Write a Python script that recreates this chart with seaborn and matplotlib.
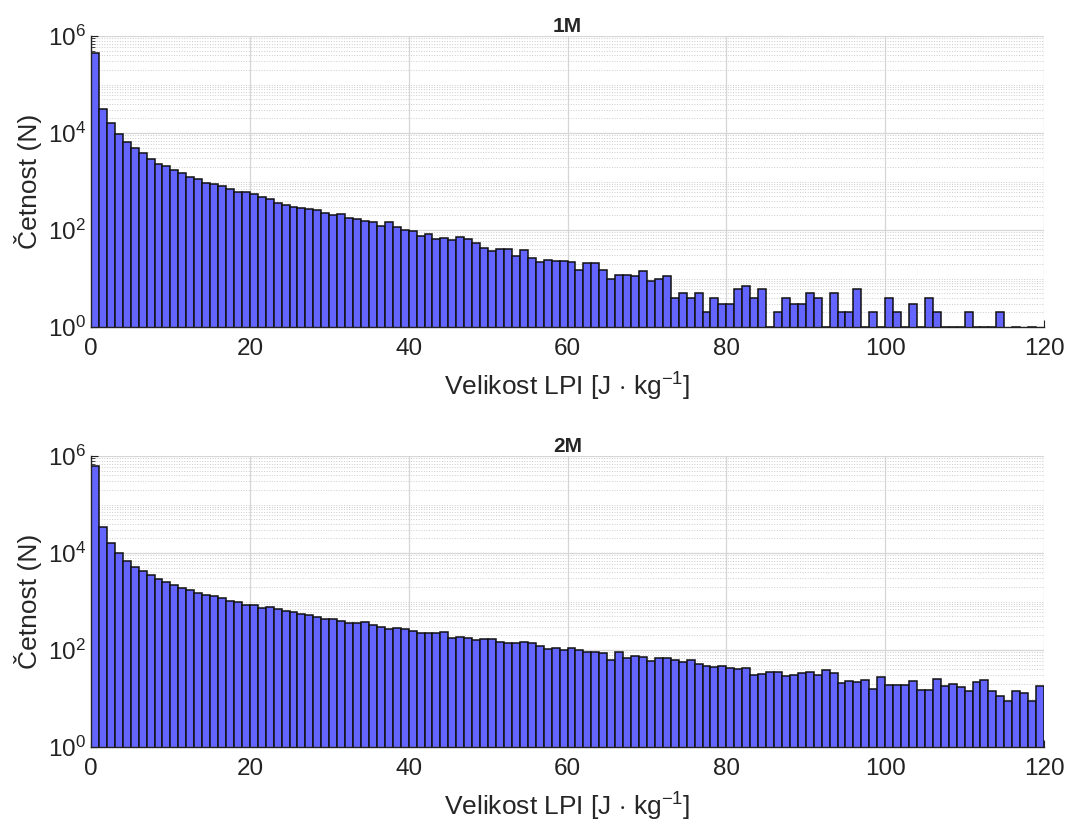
import numpy as np
import pandas as pd
import matplotlib
matplotlib.use("Agg")
import matplotlib.pyplot as plt
import seaborn as sns
from matplotlib.ticker import LogLocator, FixedLocator, NullFormatter, FuncFormatter

# ---- data (counts per 1 J/kg bin, 0..120) ----
bin_edges = list(range(0, 121))
counts_1m = [440000, 31000, 15700, 9500, 6650, 4860, 3900, 2950, 2330, 2090,
             1700, 1480, 1250, 1130, 950, 868, 815, 708, 615, 597,
             551, 479, 429, 356, 334, 299, 286, 272, 256, 222,
             206, 212, 176, 165, 153, 146, 123, 146, 115, 100,
             97, 75, 82, 64, 69, 61, 71, 64, 55, 42,
             37, 40, 41, 29, 38, 27, 22, 24, 23, 23,
             22, 15, 21, 21, 15, 10, 12, 12, 11, 14,
             9, 10, 11, 4, 5, 4, 5, 2, 4, 3,
             3, 6, 7, 4, 6, 1, 2, 4, 3, 3,
             5, 4, 1, 5, 2, 2, 6, 1, 2, 1,
             4, 2, 1, 3, 1, 4, 2, 1, 1, 1,
             2, 1, 1, 1, 2, 0, 1, 0, 1, 0]
counts_2m = [635000, 34000, 16300, 9850, 6980, 5260, 4230, 3450, 2900, 2480,
             2190, 1900, 1700, 1530, 1350, 1270, 1190, 1030, 969, 855,
             829, 720, 778, 709, 635, 597, 543, 526, 479, 429,
             443, 403, 367, 356, 373, 334, 304, 268, 281, 268,
             244, 226, 226, 219, 233, 178, 184, 178, 163, 168,
             165, 148, 137, 141, 148, 141, 123, 105, 112, 102,
             108, 98, 90, 90, 87, 61, 90, 69, 74, 71,
             58, 67, 69, 62, 56, 61, 52, 47, 44, 46,
             42, 41, 42, 30, 32, 36, 35, 29, 30, 33,
             36, 31, 39, 34, 21, 23, 22, 24, 16, 28,
             19, 19, 19, 23, 15, 15, 25, 18, 20, 17,
             14, 22, 24, 14, 11, 9, 14, 13, 9, 18]
titles = ["1M", "2M"]
xticks = [0, 20, 40, 60, 80, 100, 120]
ylabel = "Četnost (N)"
xlabel = "Velikost LPI [J $\\cdot$ kg$^{-1}$]"

sns.set_style("white")
plt.rcParams["font.family"] = ["Liberation Sans", "DejaVu Sans"]
plt.rcParams["mathtext.fontset"] = "custom"
plt.rcParams["mathtext.rm"] = "Liberation Sans"
plt.rcParams["mathtext.it"] = "Liberation Sans:italic"
plt.rcParams["mathtext.bf"] = "Liberation Sans:bold"

fig = plt.figure(figsize=(10.68, 8.31), dpi=100)
left = 91 / 1068
width = 953 / 1068
height = 291 / 831
bottoms = [1 - 327 / 831, 1 - 747 / 831]

centers = np.array(bin_edges[:-1]) + 0.5
for counts, title, b in zip([counts_1m, counts_2m], titles, bottoms):
    ax = fig.add_axes([left, b, width, height])
    df = pd.DataFrame({"x": centers, "n": counts})
    sns.histplot(data=df, x="x", weights="n", bins=bin_edges, ax=ax,
                 color="#6464FF", alpha=1.0, edgecolor="#111111", linewidth=1.1)
    ax.set_yscale("log")
    ax.set_ylim(1, 1e6)
    ax.set_xlim(0, 120)
    ax.set_xticks(xticks)
    ax.yaxis.set_major_locator(FixedLocator([1, 1e2, 1e4, 1e6]))
    ax.yaxis.set_major_formatter(FuncFormatter(lambda v, p: "$10^{%d}$" % int(round(np.log10(v)))))
    ax.yaxis.set_minor_locator(LogLocator(base=10, subs=np.arange(1, 10), numticks=100))
    ax.yaxis.set_minor_formatter(NullFormatter())
    ax.grid(True, which="major", axis="both", color="#d6d6d6", linewidth=0.9)
    ax.grid(True, which="minor", axis="y", color="#cccccc", linewidth=0.7, linestyle=":")
    ax.set_axisbelow(True)
    for s in ["top", "right"]:
        ax.spines[s].set_visible(False)
    for s in ["left", "bottom"]:
        ax.spines[s].set_color("#222222")
        ax.spines[s].set_linewidth(1.0)
    ax.tick_params(axis="both", which="major", direction="in", length=5, labelsize=17.5,
                   left=True, bottom=True, colors="#222222")
    ax.tick_params(axis="x", which="major", pad=8)
    ax.tick_params(axis="y", which="minor", direction="in", length=3, left=True)
    ax.set_ylabel(ylabel, fontsize=19, labelpad=4)
    ax.set_xlabel(xlabel, fontsize=19, labelpad=8)
    ax.set_title(title, fontsize=15, fontweight="bold", pad=3)

fig.savefig("out.png", dpi=100, facecolor="white")
